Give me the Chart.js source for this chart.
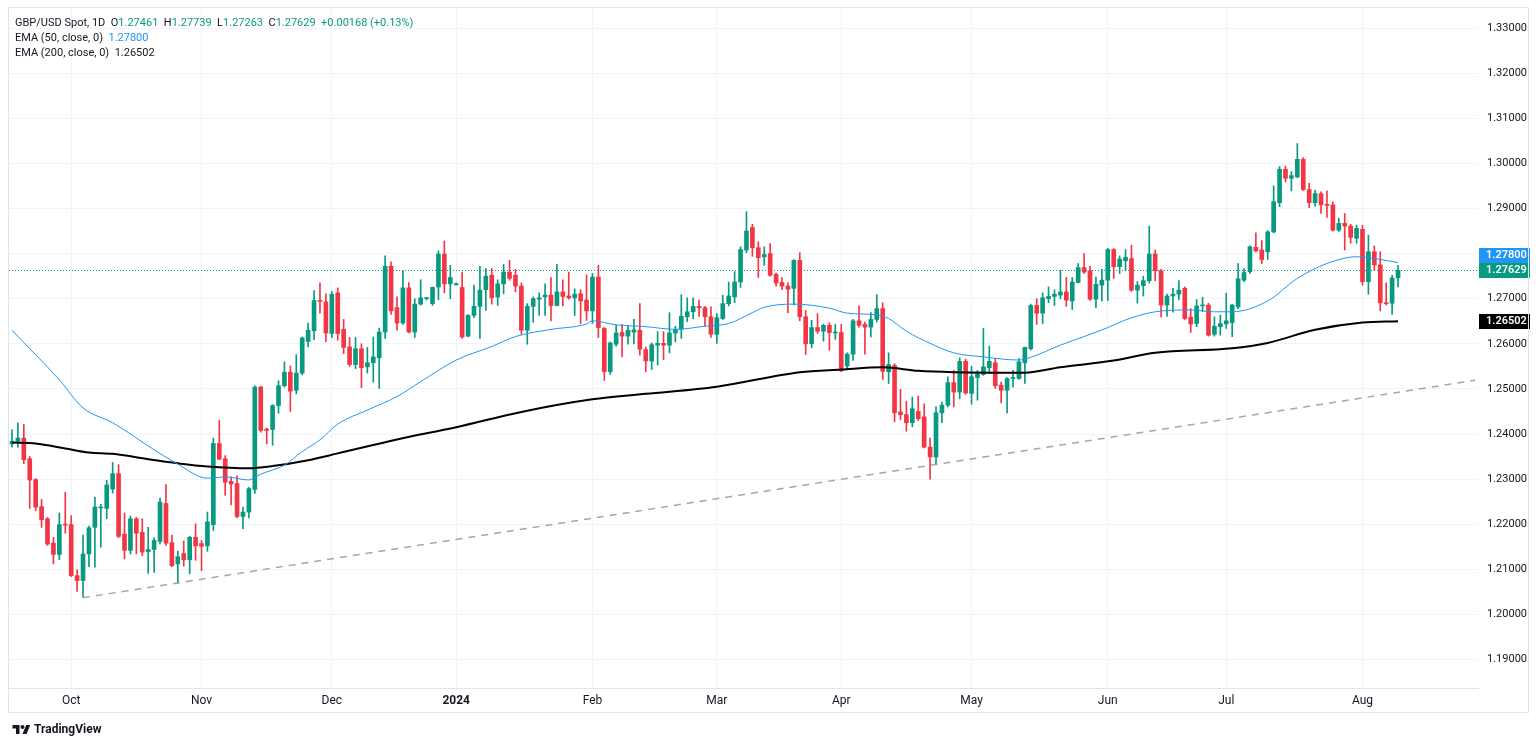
<!DOCTYPE html>
<html lang="en">
<head>
<meta charset="UTF-8">
<title>GBP/USD Spot, 1D</title>
<script src="https://cdn.jsdelivr.net/npm/chart.js"></script>
<style>
    html, body { margin: 0; padding: 0; background: #ffffff; }
    body {
        width: 1536px;
        height: 744px;
        position: relative;
        overflow: hidden;
        font-family: Roboto, "Open Sans", sans-serif;
        color: #131722;
    }
    #chart { position: absolute; left: 0; top: 0; }
    .frame {
        position: absolute;
        left: 8px;
        top: 7px;
        width: 1521px;
        height: 706px;
        border: 1px solid #e0e3eb;
        box-sizing: border-box;
        pointer-events: none;
    }
    .legend {
        position: absolute;
        left: 15px;
        top: 15px;
        font-size: 11px;
        line-height: 15px;
        white-space: pre;
    }
    .up { color: #089981; }
    .blue { color: #2196f3; }
    .logo {
        position: absolute;
        left: 12px;
        top: 722px;
        font-size: 12px;
        font-weight: bold;
        display: flex;
        align-items: center;
        gap: 3px;
    }
</style>
</head>
<body>
<canvas id="chart" width="1536" height="744"></canvas>
<div class="frame"></div>
<div class="legend" id="legend"></div>
<div class="logo">
    <svg width="19" height="13" viewBox="0 0 36 26"><path d="M14 22H7V11H0V4h14v18zM28 22h-8l7.5-18h8L28 22z" fill="#131722"/><circle cx="20" cy="8" r="4" fill="#131722"/></svg>
    <span>TradingView</span>
</div>
<script>
// daily candles from Mon 18 Sep 2023 to Fri 9 Aug 2024 (weekdays)
const opens = [
    1.2378,1.2384,1.2391,1.2345,1.2299,1.2239,1.2212,1.2158,1.2133,1.2199,
    1.2199,1.2086,1.2075,1.2134,1.2193,1.2236,1.2235,1.2278,1.2312,1.2178,
    1.2142,1.2212,1.2182,1.2139,1.2144,1.2162,1.2246,1.2159,1.2112,1.2135,
    1.2121,1.2171,1.2157,1.2152,1.2199,1.2379,1.2345,1.2295,1.2290,1.2217,
    1.2227,1.2277,1.2504,1.2411,1.2410,1.2463,1.2507,1.2537,1.2497,1.2535,
    1.2605,1.2629,1.2696,1.2693,1.2623,1.2713,1.2632,1.2593,1.2554,1.2589,
    1.2549,1.2558,1.2569,1.2626,1.2772,1.2680,1.2646,1.2724,1.2626,1.2688,
    1.2700,1.2689,1.2726,1.2799,1.2733,1.2731,1.2725,1.2617,1.2663,1.2683,
    1.2720,1.2752,1.2704,1.2733,1.2759,1.2752,1.2728,1.2630,1.2683,1.2699,
    1.2704,1.2708,1.2685,1.2715,1.2706,1.2702,1.2711,1.2697,1.2673,1.2748,
    1.2634,1.2538,1.2599,1.2625,1.2617,1.2626,1.2630,1.2587,1.2562,1.2597,
    1.2601,1.2597,1.2624,1.2632,1.2660,1.2671,1.2683,1.2680,1.2660,1.2621,
    1.2656,1.2689,1.2704,1.2737,1.2808,1.2858,1.2813,1.2793,1.2800,1.2754,
    1.2736,1.2728,1.2723,1.2785,1.2660,1.2600,1.2636,1.2628,1.2641,1.2624,
    1.2625,1.2551,1.2577,1.2651,1.2643,1.2637,1.2654,1.2678,1.2538,1.2552,
    1.2449,1.2443,1.2425,1.2450,1.2438,1.2371,1.2349,1.2447,1.2464,1.2514,
    1.2493,1.2561,1.2490,1.2525,1.2532,1.2547,1.2558,1.2508,1.2497,1.2523,
    1.2523,1.2558,1.2589,1.2685,1.2668,1.2700,1.2705,1.2708,1.2715,1.2695,
    1.2736,1.2769,1.2762,1.2699,1.2730,1.2741,1.2809,1.2771,1.2784,1.2789,
    1.2719,1.2729,1.2740,1.2799,1.2762,1.2686,1.2706,1.2710,1.2723,1.2659,
    1.2645,1.2684,1.2686,1.2621,1.2638,1.2644,1.2647,1.2682,1.2741,1.2760,
    1.2814,1.2808,1.2804,1.2848,1.2913,1.2987,1.2967,1.2970,1.3009,1.2942,
    1.2913,1.2933,1.2908,1.2908,1.2852,1.2867,1.2861,1.2834,1.2854,1.2738,
    1.2804,1.2775,1.2690,1.2690,1.27461
];
const highs = [
    1.2409,1.2425,1.2421,1.2350,1.2301,1.2255,1.2215,1.2171,1.2225,1.2271,
    1.2219,1.2099,1.2176,1.2196,1.2260,1.2244,1.2297,1.2337,1.2332,1.2225,
    1.2218,1.2215,1.2212,1.2193,1.2170,1.2258,1.2288,1.2176,1.2140,1.2163,
    1.2173,1.2201,1.2164,1.2227,1.2391,1.2430,1.2352,1.2305,1.2308,1.2238,
    1.2282,1.2507,1.2506,1.2413,1.2465,1.2518,1.2560,1.2551,1.2576,1.2615,
    1.2646,1.2718,1.2735,1.2711,1.2716,1.2724,1.2654,1.2614,1.2614,1.2600,
    1.2592,1.2615,1.2635,1.2795,1.2782,1.2704,1.2762,1.2736,1.2700,1.2742,
    1.2703,1.2726,1.2806,1.2828,1.2774,1.2735,1.2759,1.2665,1.2730,1.2772,
    1.2767,1.2767,1.2742,1.2776,1.2785,1.2765,1.2735,1.2689,1.2704,1.2713,
    1.2733,1.2747,1.2776,1.2742,1.2759,1.2722,1.2720,1.2753,1.2756,1.2774,
    1.2636,1.2604,1.2641,1.2643,1.2641,1.2654,1.2689,1.2593,1.2602,1.2627,
    1.2627,1.2669,1.2639,1.2709,1.2702,1.2702,1.2697,1.2683,1.2682,1.2667,
    1.2708,1.2737,1.2760,1.2815,1.2893,1.2865,1.2826,1.2815,1.2822,1.2757,
    1.2747,1.2735,1.2787,1.2802,1.2674,1.2652,1.2667,1.2643,1.2647,1.2643,
    1.2643,1.2580,1.2654,1.2684,1.2648,1.2669,1.2709,1.2691,1.2580,1.2556,
    1.2499,1.2473,1.2482,1.2484,1.2467,1.2391,1.2460,1.2471,1.2527,1.2541,
    1.2569,1.2566,1.2550,1.2541,1.2634,1.2595,1.2567,1.2515,1.2525,1.2541,
    1.2567,1.2593,1.2688,1.2700,1.2713,1.2726,1.2720,1.2763,1.2747,1.2747,
    1.2778,1.2800,1.2772,1.2748,1.2765,1.2812,1.2811,1.2795,1.2809,1.2819,
    1.2738,1.2750,1.2861,1.2808,1.2765,1.2710,1.2723,1.2740,1.2726,1.2678,
    1.2698,1.2703,1.2690,1.2660,1.2664,1.2712,1.2688,1.2778,1.2767,1.2817,
    1.2846,1.2829,1.2851,1.2950,1.2993,1.2994,1.2982,1.3044,1.3013,1.2956,
    1.2941,1.2937,1.2939,1.2915,1.2878,1.2889,1.2865,1.2863,1.2863,1.2841,
    1.2817,1.2804,1.2735,1.2752,1.27739
];
const lows = [
    1.2371,1.2371,1.2334,1.2235,1.2230,1.2193,1.2153,1.2112,1.2121,1.2180,
    1.2084,1.2051,1.2038,1.2106,1.2105,1.2149,1.2212,1.2269,1.2170,1.2123,
    1.2134,1.2134,1.2130,1.2091,1.2093,1.2156,1.2153,1.2106,1.2069,1.2107,
    1.2090,1.2120,1.2097,1.2140,1.2186,1.2343,1.2264,1.2243,1.2214,1.2190,
    1.2214,1.2268,1.2404,1.2378,1.2375,1.2446,1.2504,1.2450,1.2489,1.2531,
    1.2593,1.2609,1.2668,1.2605,1.2614,1.2608,1.2578,1.2550,1.2545,1.2503,
    1.2535,1.2515,1.2501,1.2612,1.2665,1.2630,1.2643,1.2624,1.2614,1.2686,
    1.2697,1.2685,1.2698,1.2713,1.2700,1.2730,1.2612,1.2615,1.2658,1.2612,
    1.2674,1.2688,1.2685,1.2711,1.2741,1.2715,1.2621,1.2599,1.2648,1.2663,
    1.2663,1.2651,1.2684,1.2684,1.2699,1.2663,1.2645,1.2652,1.2645,1.2614,
    1.2519,1.2532,1.2595,1.2571,1.2599,1.2600,1.2575,1.2538,1.2543,1.2553,
    1.2565,1.2580,1.2604,1.2612,1.2649,1.2656,1.2661,1.2639,1.2614,1.2601,
    1.2654,1.2684,1.2691,1.2725,1.2802,1.2794,1.2747,1.2774,1.2750,1.2728,
    1.2720,1.2669,1.2686,1.2651,1.2576,1.2591,1.2623,1.2606,1.2586,1.2610,
    1.2538,1.2544,1.2563,1.2637,1.2577,1.2615,1.2648,1.2521,1.2512,1.2427,
    1.2432,1.2406,1.2416,1.2430,1.2369,1.2300,1.2332,1.2425,1.2460,1.2460,
    1.2478,1.2488,1.2466,1.2475,1.2530,1.2534,1.2501,1.2469,1.2447,1.2504,
    1.2521,1.2512,1.2586,1.2643,1.2645,1.2691,1.2685,1.2700,1.2683,1.2676,
    1.2735,1.2756,1.2696,1.2680,1.2695,1.2696,1.2745,1.2756,1.2763,1.2716,
    1.2690,1.2706,1.2735,1.2740,1.2659,1.2661,1.2670,1.2698,1.2654,1.2625,
    1.2638,1.2671,1.2617,1.2617,1.2619,1.2634,1.2616,1.2678,1.2738,1.2756,
    1.2804,1.2778,1.2787,1.2846,1.2904,1.2959,1.2939,1.2968,1.2940,1.2902,
    1.2905,1.2889,1.2880,1.2850,1.2849,1.2808,1.2823,1.2823,1.2730,1.2710,
    1.2763,1.2673,1.2686,1.2665,1.27263
];
const closes = [
    1.2384,1.2391,1.2343,1.2298,1.2238,1.2210,1.2156,1.2133,1.2199,1.2198,
    1.2086,1.2075,1.2134,1.2192,1.2238,1.2238,1.2287,1.2312,1.2173,1.2142,
    1.2212,1.2180,1.2138,1.2144,1.2164,1.2249,1.2158,1.2108,1.2128,1.2121,
    1.2171,1.2152,1.2151,1.2205,1.2379,1.2344,1.2293,1.2289,1.2217,1.2227,
    1.2279,1.2504,1.2408,1.2408,1.2463,1.2507,1.2537,1.2495,1.2535,1.2613,
    1.2630,1.2696,1.2694,1.2624,1.2710,1.2623,1.2592,1.2554,1.2589,1.2547,
    1.2558,1.2571,1.2626,1.2772,1.2673,1.2646,1.2724,1.2626,1.2688,1.2702,
    1.2701,1.2725,1.2799,1.2733,1.2747,1.2733,1.2615,1.2663,1.2683,1.2719,
    1.2750,1.2702,1.2733,1.2759,1.2745,1.2728,1.2630,1.2683,1.2700,1.2702,
    1.2708,1.2685,1.2715,1.2705,1.2702,1.2710,1.2695,1.2673,1.2748,1.2636,
    1.2538,1.2602,1.2624,1.2617,1.2630,1.2631,1.2588,1.2562,1.2598,1.2601,
    1.2597,1.2624,1.2632,1.2661,1.2671,1.2683,1.2680,1.2660,1.2621,1.2658,
    1.2689,1.2706,1.2737,1.2809,1.2850,1.2813,1.2791,1.2798,1.2752,1.2735,
    1.2728,1.2721,1.2785,1.2660,1.2600,1.2636,1.2628,1.2641,1.2625,1.2625,
    1.2540,1.2577,1.2651,1.2641,1.2637,1.2654,1.2678,1.2539,1.2554,1.2447,
    1.2443,1.2425,1.2456,1.2434,1.2371,1.2349,1.2447,1.2464,1.2514,1.2493,
    1.2561,1.2491,1.2527,1.2534,1.2549,1.2561,1.2507,1.2497,1.2523,1.2524,
    1.2560,1.2592,1.2685,1.2668,1.2702,1.2705,1.2710,1.2715,1.2697,1.2737,
    1.2769,1.2759,1.2699,1.2732,1.2741,1.2809,1.2771,1.2788,1.2792,1.2719,
    1.2730,1.2740,1.2799,1.2762,1.2686,1.2706,1.2710,1.2719,1.2656,1.2644,
    1.2684,1.2686,1.2619,1.2639,1.2645,1.2651,1.2686,1.2744,1.2758,1.2815,
    1.2806,1.2787,1.2848,1.2915,1.2987,1.2967,1.2973,1.3009,1.2942,1.2913,
    1.2933,1.2908,1.2907,1.2852,1.2867,1.2861,1.2836,1.2856,1.2738,1.2804,
    1.2775,1.2691,1.2689,1.27461,1.27629
];

// EMA values at a few bars (bar index, value)
const ema50Idx = [0,8,12,17,24,28,33,36,40,42,46,49,52,55,60,65,69,75,81,85,
    91,97,98,102,107,112,117,121,125,127,132,138,141,146,148,151,155,159,164,170,
    172,177,181,185,188,193,199,203,206,212,217,222,227,231,234];
const ema50Val = [1.2630,1.2520,1.2458,1.2425,1.2365,1.2333,1.2302,1.2305,1.2298,1.2311,
    1.2331,1.2361,1.2387,1.2422,1.2453,1.2483,1.2516,1.2564,1.2594,1.2616,
    1.2632,1.2644,1.2651,1.2642,1.2638,1.2632,1.2639,1.2645,1.2669,1.2681,
    1.2688,1.2679,1.2668,1.2664,1.2656,1.2628,1.2601,1.2580,1.2571,1.2564,
    1.2570,1.2597,1.2616,1.2636,1.2653,1.2671,1.2675,1.2671,1.2671,1.2695,
    1.2745,1.2778,1.2793,1.2787,1.27800];
const ema200Idx = [0,4,9,13,17,23,28,33,40,44,50,55,65,75,86,98,107,119,133,140,
    147,153,159,171,177,186,193,206,212,220,228,234];
const ema200Val = [1.2381,1.2379,1.2368,1.2359,1.2356,1.2344,1.2335,1.2328,1.2324,1.2329,
    1.2342,1.2357,1.2388,1.2415,1.2449,1.2477,1.2489,1.2505,1.2537,1.2543,
    1.2548,1.2540,1.2537,1.2536,1.2548,1.2563,1.2580,1.2590,1.2602,1.2631,
    1.2647,1.26502];

// dashed trend line from the October low
const trendIdx = [12, 247];
const trendVal = [1.2037, 1.2519];

const priceTicks = [1.19,1.20,1.21,1.22,1.23,1.24,1.25,1.26,1.27,1.28,1.29,1.30,1.31,1.32,1.33];
const monthTickLabels = ['Oct','Nov','Dec','2024','Feb','Mar','Apr','May','Jun','Jul','Aug'];

const barSlots = 248;   // bars plus empty space on the right
const yMin = 1.18368;
const yMax = 1.33446;

// weekday categories
const labels = [];
const day = new Date(Date.UTC(2023, 8, 18));
while (labels.length < barSlots) {
    const wd = day.getUTCDay();
    if (wd !== 0 && wd !== 6) labels.push(day.toISOString().slice(0, 10));
    day.setUTCDate(day.getUTCDate() + 1);
}
const tickAt = {};
let k = 0;
for (let i = 1; i < labels.length; i++) {
    if (labels[i].slice(5, 7) !== labels[i - 1].slice(5, 7) && k < monthTickLabels.length) {
        tickAt[i] = monthTickLabels[k++];
    }
}

const upColor = '#089981';
const downColor = '#f23645';
const candleColors = closes.map((c, i) => c >= opens[i] ? upColor : downColor);

const last = closes.length - 1;
const lastClose = closes[last];
const change = lastClose - closes[last - 1];
const pct = change / closes[last - 1] * 100;
const sign = change >= 0 ? '+' : '';
const ema50Last = ema50Val[ema50Val.length - 1];
const ema200Last = ema200Val[ema200Val.length - 1];

document.getElementById('legend').innerHTML =
    'GBP/USD Spot, 1D  O<span class="up">' + opens[last].toFixed(5) + '</span>  H<span class="up">' +
    highs[last].toFixed(5) + '</span>  L<span class="up">' + lows[last].toFixed(5) + '</span>  C<span class="up">' +
    lastClose.toFixed(5) + '  ' + sign + change.toFixed(5) + ' (' + sign + pct.toFixed(2) + '%)</span>\n' +
    'EMA (50, close, 0)  <span class="blue">' + ema50Last.toFixed(5) + '</span>\n' +
    'EMA (200, close, 0)  ' + ema200Last.toFixed(5);

function points(idx, vals) {
    return idx.map((i, j) => ({ x: labels[i], y: vals[j] }));
}

const priceMarks = {
    id: 'priceMarks',
    beforeDatasetsDraw(chart) {
        const { ctx, chartArea, scales } = chart;
        const y = Math.round(scales.y.getPixelForValue(lastClose)) + 0.5;
        ctx.save();
        ctx.strokeStyle = upColor;
        ctx.lineWidth = 1;
        ctx.setLineDash([1, 2]);
        ctx.beginPath();
        ctx.moveTo(chartArea.left, y);
        ctx.lineTo(chartArea.right, y);
        ctx.stroke();
        ctx.restore();
    },
    afterDraw(chart) {
        const { ctx, chartArea, scales } = chart;
        const h = 15;
        const yClose = scales.y.getPixelForValue(lastClose);
        const yFast = Math.min(scales.y.getPixelForValue(ema50Last), yClose - h);
        const ySlow = scales.y.getPixelForValue(ema200Last);
        const boxes = [
            [yFast, '#2196f3', ema50Last],
            [yClose, upColor, lastClose],
            [ySlow, '#000000', ema200Last]
        ];
        ctx.save();
        ctx.font = '600 11px Roboto';
        ctx.textBaseline = 'middle';
        ctx.textAlign = 'left';
        boxes.forEach(([yy, col, v]) => {
            ctx.fillStyle = col;
            ctx.fillRect(chartArea.right + 1, Math.round(yy - h / 2), 51, h);
            ctx.fillStyle = '#ffffff';
            ctx.fillText(v.toFixed(5), chartArea.right + 8, Math.round(yy) + 0.5);
        });
        ctx.restore();
    }
};

new Chart(document.getElementById('chart'), {
    type: 'bar',
    data: {
        labels: labels,
        datasets: [
            {
                type: 'line',
                label: 'EMA 50',
                data: points(ema50Idx, ema50Val),
                borderColor: '#2196f3',
                borderWidth: 1,
                pointRadius: 0,
                cubicInterpolationMode: 'monotone',
                order: 0
            },
            {
                type: 'line',
                label: 'EMA 200',
                data: points(ema200Idx, ema200Val),
                borderColor: '#000000',
                borderWidth: 2,
                pointRadius: 0,
                cubicInterpolationMode: 'monotone',
                order: 0
            },
            {
                type: 'line',
                label: 'Trend',
                data: points(trendIdx, trendVal),
                borderColor: '#a6a6a6',
                borderWidth: 1.5,
                borderDash: [7, 6],
                pointRadius: 0,
                order: 0
            },
            {
                label: 'Wicks',
                data: lows.map((l, i) => [l, highs[i]]),
                backgroundColor: candleColors,
                barThickness: 1,
                grouped: false,
                order: 2
            },
            {
                label: 'Bodies',
                data: opens.map((o, i) => [o, closes[i]]),
                backgroundColor: candleColors,
                barThickness: 4,
                minBarLength: 1,
                grouped: false,
                order: 1
            }
        ]
    },
    options: {
        responsive: false,
        animation: false,
        devicePixelRatio: 1,
        layout: { padding: { left: 9, top: 8, right: 0, bottom: 32 } },
        plugins: {
            legend: { display: false },
            tooltip: { enabled: false }
        },
        scales: {
            x: {
                type: 'category',
                offset: true,
                grid: { offset: false, color: '#f0f3fa', drawTicks: false },
                border: { display: true, color: '#e0e3eb' },
                ticks: {
                    autoSkip: false,
                    maxRotation: 0,
                    padding: 6,
                    color: '#131722',
                    font: c => ({
                        family: 'Roboto',
                        size: 12,
                        weight: c.tick && c.tick.label === '2024' ? 'bold' : 'normal'
                    }),
                    callback: (v, i) => tickAt[i] ?? null
                },
                afterFit: s => { s.height = 24; s.paddingLeft = 0; s.paddingRight = 0; }
            },
            y: {
                position: 'right',
                min: yMin,
                max: yMax,
                grid: { color: '#f0f3fa', drawTicks: false },
                border: { display: false },
                ticks: {
                    padding: 9,
                    color: '#131722',
                    font: { family: 'Roboto', size: 11 },
                    callback: v => v.toFixed(5)
                },
                afterBuildTicks: a => { a.ticks = priceTicks.map(value => ({ value })); },
                afterFit: s => { s.width = 58; s.paddingTop = 0; s.paddingBottom = 0; }
            }
        }
    },
    plugins: [priceMarks]
});
</script>
</body>
</html>
